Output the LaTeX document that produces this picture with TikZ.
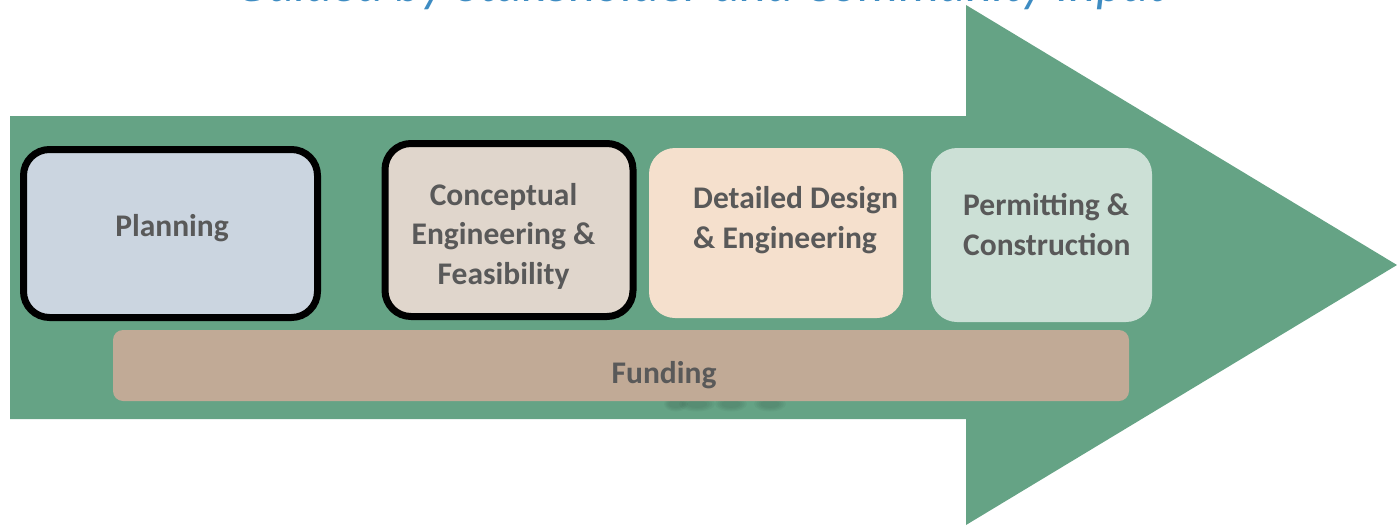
\documentclass[tikz,border=0pt]{standalone}
\usepackage{fontspec}
\setmainfont{Carlito}
\definecolor{arrowgreen}{HTML}{65A385}
\definecolor{planfill}{HTML}{CBD5E0}
\definecolor{concfill}{HTML}{E0D6CC}
\definecolor{detfill}{HTML}{F5E0CD}
\definecolor{permfill}{HTML}{CCE0D6}
\definecolor{fundfill}{HTML}{C1AA96}
\definecolor{txtgray}{HTML}{595959}
\definecolor{titleblue}{HTML}{3E8CC2}
\tikzset{
  stagebox/.style={rounded corners=26pt, inner sep=0pt},
  outlined/.style={stagebox, draw=black, line width=7pt},
  lbl/.style={font=\fontsize{31.5}{39.5}\selectfont\bfseries, text=txtgray, inner sep=0pt},
}
\begin{document}
\begin{tikzpicture}[x=1pt,y=-1pt]
\useasboundingbox (0,0) rectangle (1397,527);
\clip (0,0) rectangle (1397,527);
% title (cut off at the top, as in the reference)
\node[font=\fontsize{51.5}{55}\selectfont\itshape, text=titleblue, anchor=base, inner sep=0pt] (title) at (701,1.5) {Guided by Stakeholder and Community Input};
% big arrow
\fill[arrowgreen] (10,116) -- (966,116) -- (966,5) -- (1397,265) -- (966,525) -- (966,419) -- (10,419) -- cycle;
% blurred shadow smudge under funding bar
\foreach \cx/\rx in {676/7, 697/13, 731/11, 770/11}{
  \foreach \s in {1.0,0.8,0.6,0.4}{
    \fill[black!75!arrowgreen, opacity=0.045] (\cx,404) ellipse ({\rx*\s+5} and {6*\s+1.5});
  }
}
% stage boxes
\path[outlined, fill=planfill] (23.5,149.5) rectangle (317.5,317.5);
\node (planbox) at (170.5,233.5) {};
\path[outlined, fill=concfill] (385,143.5) rectangle (633,316.5);
\node (concbox) at (509,230) {};
\path[stagebox, fill=detfill] (649,148) rectangle (903,318);
\node (detbox) at (776,233) {};
\path[stagebox, fill=permfill] (931,148) rectangle (1152,322);
\node (permbox) at (1041.5,235) {};
\path[fill=fundfill, rounded corners=10pt] (113,330) rectangle (1129,401);
\node (fundbox) at (621,365.5) {};
% labels (multi-line nodes: base = last line's baseline)
\node[lbl, anchor=base] (plan) at (172,236) {Planning};
\node[lbl, anchor=base, align=center] (conc) at (503.5,284) {Conceptual\\Engineering \&\\Feasibility};
\node[lbl, anchor=base west, align=left] (det) at (693,248) {Detailed Design\\\& Engineering};
\node[lbl, anchor=base west, align=left] (perm) at (963,255) {Permitting \&\\Construction};
\node[lbl, anchor=base] (fund) at (664,383) {Funding};
\end{tikzpicture}
\end{document}
